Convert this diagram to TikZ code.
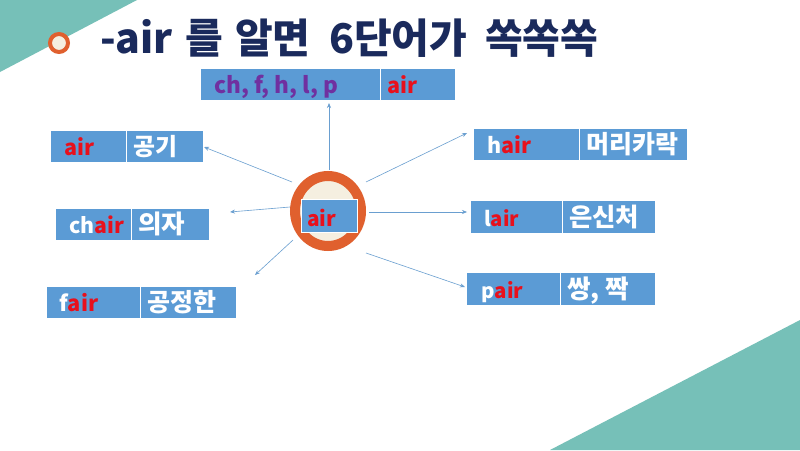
\documentclass[tikz,border=0pt]{standalone}
\usepackage{fontspec}
\setmainfont{Noto Sans CJK KR}
\usetikzlibrary{arrows.meta}
\definecolor{teal1}{HTML}{76C0B8}
\definecolor{boxblue}{HTML}{5B9BD5}
\definecolor{ringor}{HTML}{E0602E}
\definecolor{cream}{HTML}{F5EFE0}
\definecolor{navy}{HTML}{1A2A5C}
\definecolor{redt}{HTML}{E8101C}
\definecolor{purp}{HTML}{7030A0}
\definecolor{arrowc}{HTML}{6A9FD0}
\tikzset{
  cell/.style={draw=white, line width=0.8pt, fill=boxblue, anchor=north west, inner sep=0pt},
  lbl/.style={anchor=base west, inner sep=0pt, font=\bfseries, text=white},
  conn/.style={draw=arrowc, line width=0.6pt, -{Stealth[length=5pt,width=4pt]}},
}
% #1 name, #2 x1, #3 xsplit, #4 x2, #5 y1, #6 y2, #7 left text, #8 right text, #9 left offset
\newcommand{\wbox}[9]{%
  \node[cell, minimum width={#3-#2}, minimum height={#6-#5}] (#1l) at (#2,#5) {};
  \node[cell, minimum width={#4-#3}, minimum height={#6-#5}] (#1r) at (#3,#5) {};
  \node[lbl] (#1lt) at (#2+#9,#6-7) {#7};
  \node[lbl] (#1rt) at (#3+7,#6-7) {#8};
}
\newcommand{\fitw}[2]{\resizebox{#1pt}{!}{#2}}
\begin{document}
\begin{tikzpicture}[x=1pt,y=-1pt]
\useasboundingbox (0,0) rectangle (800,450);
\fill[white] (0,0) rectangle (800,450);
\fill[teal1] (0,0) -- (137,0) -- (0,72) -- cycle;
\fill[teal1] (550,450) -- (800,320) -- (800,450) -- cycle;
% title bullet
\draw[ringor, line width=4pt, fill=cream] (59,43) circle (9);
\node[anchor=base west, inner sep=0pt, text=navy, font=\fontsize{41}{45}\selectfont\bfseries] (title) at (100,53) {\makebox[85pt][l]{-air}\makebox[50pt][l]{를}\makebox[94pt][l]{알면}\makebox[156pt][l]{6단어가}쏙쏙쏙};
% center
\draw[ringor, line width=10pt, fill=cream] (328,211) ellipse (33 and 35);
\node[draw=white, line width=0.8pt, fill=boxblue, minimum width=56, minimum height=33, anchor=north west, inner sep=0pt] (center) at (301,199) {};
\node[lbl, text=redt] (centert) at (307,226) {\fitw{29}{air}};
% boxes
\wbox{top}{200}{380}{455}{68}{100}{\fitw{124}{\textcolor{purp}{ch, f, h, l, p}}}{\fitw{30}{\textcolor{redt}{air}}}{14}
\wbox{a}{50}{126}{203}{130}{162}{\fitw{30}{\textcolor{redt}{air}}}{\fitw{44}{공기}}{14}
\wbox{c}{55}{131}{209}{208}{240}{\fitw{55}{ch\textcolor{redt}{air}}}{\fitw{47}{의자}}{14}
\wbox{f}{46}{140}{236}{286}{318}{\fitw{39}{f\textcolor{redt}{air}}}{\fitw{69}{공정한}}{13}
\wbox{h}{473}{579}{687}{128}{160}{\fitw{44}{h\textcolor{redt}{air}}}{\fitw{92}{머리카락}}{14}
\wbox{l}{470}{562}{655}{200}{233}{\fitw{35}{l\textcolor{redt}{air}}}{\fitw{70}{은신처}}{14}
\wbox{p}{466}{560}{655}{272}{305}{\fitw{42}{p\textcolor{redt}{air}}}{\fitw{62}{쌍, 짝}}{15}
% connectors
\coordinate (s1) at (329,170);
\coordinate (s2) at (292,182);
\coordinate (s3) at (290,207);
\coordinate (s4) at (293,240);
\coordinate (s5) at (366,182);
\coordinate (s6) at (369,212);
\coordinate (s7) at (366,253);
\coordinate (e1) at (329,103);
\coordinate (e2) at (204,147);
\coordinate (e3) at (230,212);
\coordinate (e4) at (255,275);
\coordinate (e5) at (467,133);
\coordinate (e6) at (467,212);
\coordinate (e7) at (465,287);
\draw[conn] (s1) -- (e1);
\draw[conn] (s2) -- (e2);
\draw[conn] (s3) -- (e3);
\draw[conn] (s4) -- (e4);
\draw[conn] (s5) -- (e5);
\draw[conn] (s6) -- (e6);
\draw[conn] (s7) -- (e7);
\end{tikzpicture}
\end{document}
